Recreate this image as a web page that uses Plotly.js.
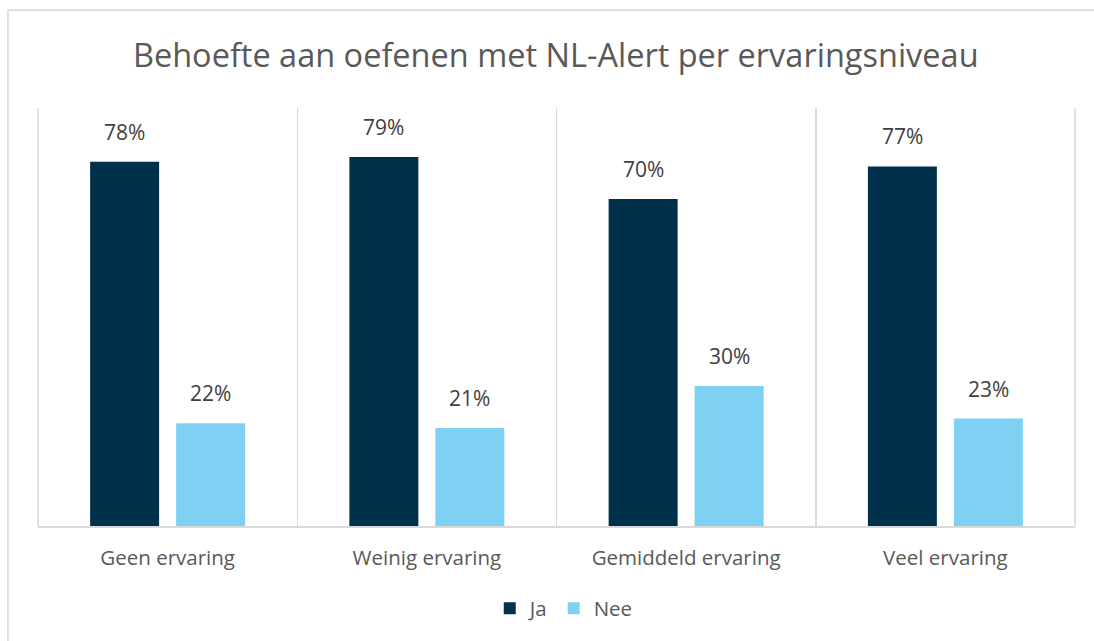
<!DOCTYPE html>
<html>
<head>
<meta charset="utf-8">
<script src="https://cdn.plot.ly/plotly-3.0.1.min.js"></script>
<style>
html,body{margin:0;padding:0;background:#fff;}
#chart{width:1094px;height:641px;}
</style>
</head>
<body>
<div id="chart"></div>
<script>
const categories = ["Geen ervaring", "Weinig ervaring", "Gemiddeld ervaring", "Veel ervaring"];
const jaValues = [0.78, 0.79, 0.70, 0.77];
const neeValues = [0.22, 0.21, 0.30, 0.23];
const seriesNames = ["Ja", "Nee"];
const titleText = "Behoefte aan oefenen met NL-Alert per ervaringsniveau";

const FONT = "Open Sans, sans-serif";
const TXT = "#595959";

function pct(v){ return Math.round(v*100) + "%"; }

const traces = [
  {type: "bar", name: seriesNames[0], x: categories, y: jaValues, marker: {color: "#00304A"}},
  {type: "bar", name: seriesNames[1], x: categories, y: neeValues, marker: {color: "#7FD0F2"}}
];

// data labels as annotations anchored to each bar's value
const BAR_OFFSET = 43; // half the slot width, px
const annotations = [];
categories.forEach((c, i) => {
  annotations.push({x: c, y: jaValues[i], xref: "x", yref: "y", text: pct(jaValues[i]),
    showarrow: false, yanchor: "bottom", xshift: -BAR_OFFSET, yshift: 14,
    font: {family: FONT, size: 21, color: "#404040"}});
  annotations.push({x: c, y: neeValues[i], xref: "x", yref: "y", text: pct(neeValues[i]),
    showarrow: false, yanchor: "bottom", xshift: BAR_OFFSET, yshift: 14,
    font: {family: FONT, size: 21, color: "#404040"}});
});

const layout = {
  width: 1094, height: 641,
  margin: {l: 38, r: 19, t: 108, b: 115},
  paper_bgcolor: "#fff", plot_bgcolor: "#fff",
  font: {family: FONT, color: TXT},
  title: {text: titleText, font: {family: FONT, size: 32.5, color: TXT}, x: 0.508, xanchor: "center", y: 0.914, yanchor: "middle"},
  barmode: "group", bargap: 0.3366, bargroupgap: 0.1977,
  showlegend: true,
  legend: {orientation: "h", x: 0.507, xanchor: "center", y: -0.197, yanchor: "middle",
           font: {family: FONT, size: 20.5, color: TXT}, itemwidth: 30, traceorder: "normal"},
  xaxis: {
    type: "category", range: [-0.5, 3.5],
    tickson: "boundaries", showgrid: true, gridcolor: "#d9d9d9", gridwidth: 1.5,
    showline: true, linecolor: "#d9d9d9", linewidth: 2,
    ticks: "", tickfont: {family: FONT, size: 20.5, color: TXT}, ticklabelstandoff: 12,
    fixedrange: true
  },
  yaxis: {range: [0, 0.895], visible: false, showgrid: false, zeroline: false, fixedrange: true},
  annotations: annotations,
  shapes: [
    {type: "rect", xref: "paper", yref: "paper", x0: -0.029, x1: 1.2, y0: -0.5, y1: 1.234,
     line: {color: "#d9d9d9", width: 1.5}, fillcolor: "rgba(0,0,0,0)", layer: "below"},
    {type: "line", xref: "paper", yref: "paper", x0: 0, x1: 0, y0: 0, y1: 1,
     line: {color: "#d9d9d9", width: 1.5}, layer: "below"},
    {type: "line", xref: "paper", yref: "paper", x0: 1, x1: 1, y0: 0, y1: 1,
     line: {color: "#d9d9d9", width: 1.5}, layer: "below"}
  ]
};

Plotly.newPlot("chart", traces, layout, {displayModeBar: false, staticPlot: true});
</script>
</body>
</html>
